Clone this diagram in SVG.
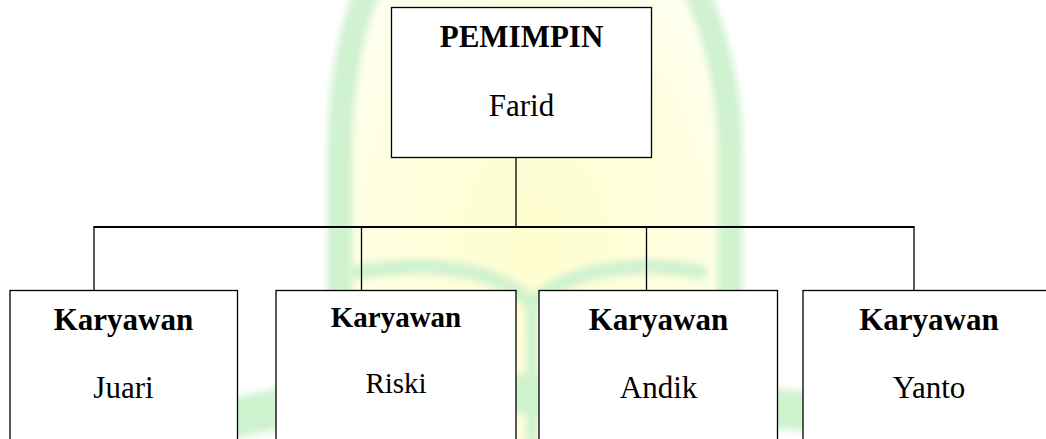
<svg xmlns="http://www.w3.org/2000/svg" width="1046" height="439" viewBox="0 0 1046 439">
  <style>
    .box { fill: #ffffff; stroke: #000000; stroke-width: 1.3; }
    .link { fill: none; stroke: #000000; stroke-width: 1.3; }
    .bar { fill: none; stroke: #000000; stroke-width: 2; }
    .title { font-weight: bold; text-anchor: middle; fill: #000000; }
    .name { text-anchor: middle; fill: #000000; }
    .wm-band { fill: none; stroke: #cff2cf; stroke-linecap: round; }
  </style>
  <defs>
    <filter id="soft" x="-10%" y="-10%" width="120%" height="120%">
      <feGaussianBlur stdDeviation="3.5"/>
    </filter>
    <radialGradient id="glow" cx="0.5" cy="0.6" r="0.6">
      <stop offset="0" stop-color="#fefecf"/>
      <stop offset="0.7" stop-color="#fefee0"/>
      <stop offset="1" stop-color="#fffff2"/>
    </radialGradient>
  </defs>

  <rect width="1046" height="439" fill="#ffffff"/>

  <!-- faint background emblem -->
  <g id="emblem" filter="url(#soft)">
    <path d="M340,450 L340,150 C340,90 350,30 368,-10 Q535,-140 695,-10 C715,30 730,90 730,150 L730,450 Z" fill="url(#glow)"/>
    <path class="wm-band" stroke-width="25" d="M340,450 L340,150 C340,90 350,30 368,-10 Q535,-140 695,-10 C715,30 730,90 730,150 L730,450"/>
    <!-- open book -->
    <path class="wm-band" stroke-width="15" d="M360,272 C430,260 500,268 532,305"/>
    <path class="wm-band" stroke-width="15" d="M700,272 C640,260 565,268 532,305"/>
    <path class="wm-band" stroke-width="12" d="M532,300 L532,439"/>
    <!-- lower sweep -->
    <path class="wm-band" stroke-width="40" d="M150,445 C260,400 420,385 535,395 C660,405 760,395 900,430"/>
  </g>

  <!-- connectors -->
  <g id="connectors">
    <line class="link" x1="516" y1="157" x2="516" y2="227"/>
    <line class="bar" x1="93.5" y1="227" x2="914.5" y2="227"/>
    <line class="link" x1="94" y1="227" x2="94" y2="290.5"/>
    <line class="link" x1="361.5" y1="227" x2="361.5" y2="290.5"/>
    <line class="link" x1="646.5" y1="227" x2="646.5" y2="290.5"/>
    <line class="link" x1="914" y1="227" x2="914" y2="290.5"/>
  </g>

  <g font-family="'Liberation Serif', 'DejaVu Serif', serif">
    <g id="pemimpin">
      <rect class="box" x="391.5" y="7.5" width="260" height="150"/>
      <text class="title" x="521.5" y="47" font-size="31">PEMIMPIN</text>
      <text class="name" x="521.5" y="116" font-size="31">Farid</text>
    </g>

    <g id="karyawan-juari">
      <rect class="box" x="10" y="290.5" width="227.5" height="160"/>
      <text class="title" x="123.5" y="330" font-size="31">Karyawan</text>
      <text class="name" x="123.5" y="398" font-size="31">Juari</text>
    </g>

    <g id="karyawan-riski">
      <rect class="box" x="276" y="290.5" width="240" height="160"/>
      <text class="title" x="396" y="327" font-size="29">Karyawan</text>
      <text class="name" x="396" y="393" font-size="29">Riski</text>
    </g>

    <g id="karyawan-andik">
      <rect class="box" x="539" y="290.5" width="238.5" height="160"/>
      <text class="title" x="658.5" y="330" font-size="31">Karyawan</text>
      <text class="name" x="658.5" y="398" font-size="31">Andik</text>
    </g>

    <g id="karyawan-yanto">
      <rect class="box" x="803" y="290.5" width="252" height="160"/>
      <text class="title" x="929" y="330" font-size="31">Karyawan</text>
      <text class="name" x="929" y="398" font-size="31">Yanto</text>
    </g>
  </g>
</svg>
